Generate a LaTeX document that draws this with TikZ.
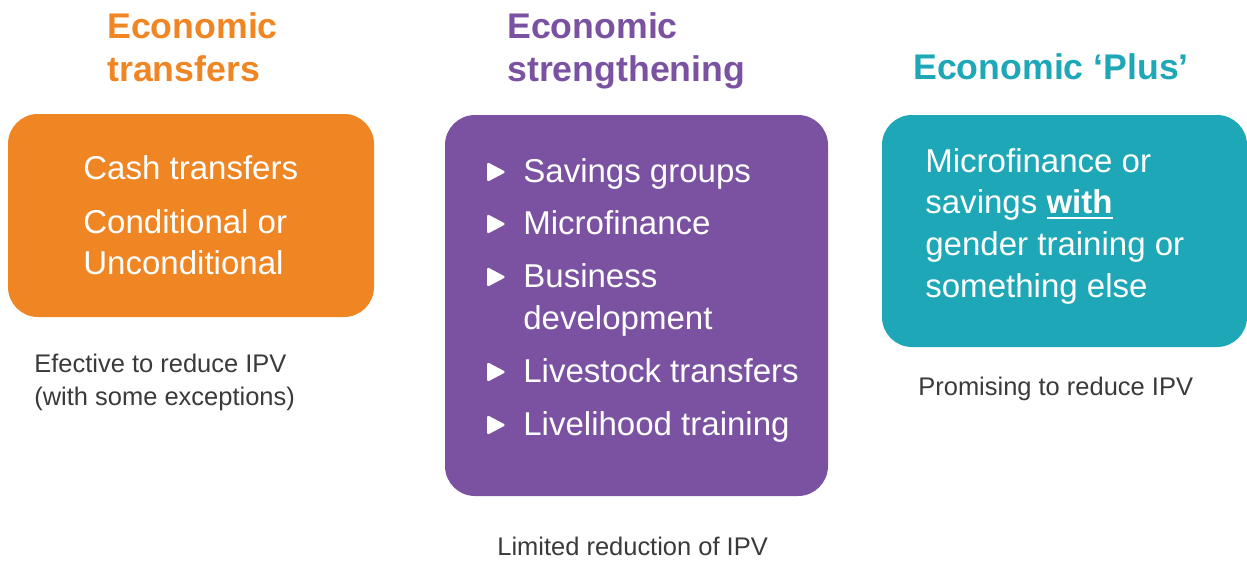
\documentclass[tikz,border=0pt]{standalone}
\usepackage{fontspec}
\setmainfont{Liberation Sans}

\definecolor{econorange}{HTML}{F08523}
\definecolor{econpurple}{HTML}{7B52A1}
\definecolor{econteal}{HTML}{1EA7B6}
\definecolor{notegray}{HTML}{3A3A3A}

% bold word with a thick underline
\newcommand{\ulbold}[1]{\setbox0\hbox{\bfseries #1}\rlap{\rule[-3.2pt]{\wd0}{1.1pt}}\box0}

\tikzset{
  head/.style={anchor=base west,inner sep=0pt,font=\fontsize{20.3}{24}\selectfont\bfseries},
  boxtext/.style={anchor=base west,inner sep=0pt,text=white,font=\fontsize{18.8}{24}\selectfont},
  note/.style={anchor=base west,inner sep=0pt,text=notegray,font=\fontsize{14.5}{18}\selectfont},
  card/.style={rounded corners=0.6cm},
  tri/.style={fill=white,rounded corners=1pt}
}

\begin{document}
\begin{tikzpicture}[x=0.02cm,y=-0.02cm]

\useasboundingbox (0,0) rectangle (1247,561);

% headings
\node (h1a) [head,text=econorange] at (107,38) {Economic};
\node (h1b) [head,text=econorange] at (107,81) {transfers};
\node (h2a) [head,text=econpurple] at (507,38) {Economic};
\node (h2b) [head,text=econpurple] at (507,81) {strengthening};
\node (h3)  [head,text=econteal] at (913,79) {Economic ‘Plus’};

% cards
\fill [card,econorange] (8,114) rectangle (374,317);
\fill [card,econpurple] (445,115) rectangle (828,496);
\fill [card,econteal] (882,115) rectangle (1247,347);

% orange card
\node (cash) [boxtext] at (83,179) {Cash transfers};
\node (cond) [boxtext] at (83,233) {Conditional or};
\node (uncond) [boxtext] at (83,274) {Unconditional};

% purple card
\foreach \y in {182,234,287,382,435}
  \path [tri] (487,\y-20) -- (506,\y-10) -- (487,\y) -- cycle;
\node (sav) [boxtext] at (523,182) {Savings groups};
\node (micro) [boxtext] at (523,234) {Microfinance};
\node (bus) [boxtext] at (523,287) {Business};
\node (dev) [boxtext] at (523,329) {development};
\node (live) [boxtext] at (523,382) {Livestock transfers};
\node (lhood) [boxtext] at (523,435) {Livelihood training};

% teal card
\node (mf) [boxtext] at (925,172) {Microfinance or};
\node (sw) [boxtext] at (925,213) {savings \ulbold{with}};
\node (gt) [boxtext] at (925,255) {gender training or};
\node (se) [boxtext] at (925,297) {something else};

% notes
\node (n1a) [note] at (34,372) {Efective to reduce IPV};
\node (n1b) [note] at (34,405) {(with some exceptions)};
\node (n2) [note] at (497,555) {Limited reduction of IPV};
\node (n3) [note] at (918,395) {Promising to reduce IPV};

\end{tikzpicture}
\end{document}
